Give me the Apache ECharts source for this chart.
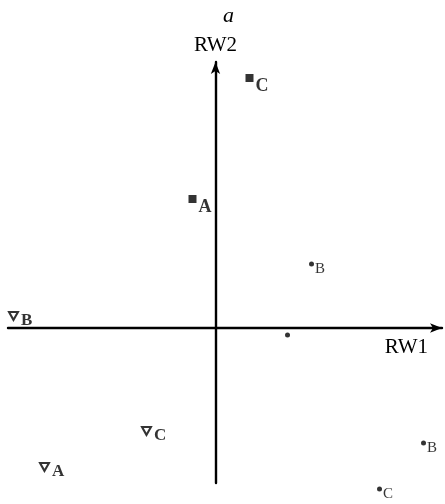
<!DOCTYPE html>
<html>
<head>
<meta charset="utf-8">
<script src="https://cdn.jsdelivr.net/npm/echarts@6/dist/echarts.min.js"></script>
<style>
  html, body { margin: 0; padding: 0; background: #fff; }
  #chart { width: 445px; height: 504px; }
</style>
</head>
<body>
<div id="chart"></div>
<script>
// Ordination scores on the first two axes (RW1, RW2)
const squareLabels = ['A', 'C'];
const squareX = [-0.23, 0.34];
const squareY = [1.29, 2.50];

const triangleLabels = ['A', 'B', 'C'];
const triangleX = [-1.71, -2.02, -0.69];
const triangleY = [-1.39, 0.12, -1.03];

const dotLabels = ['B', '', 'B', 'C'];
const dotX = [0.96, 0.72, 2.08, 1.64];
const dotY = [0.64, -0.07, -1.15, -1.61];

const axisNames = { x: 'RW1', y: 'RW2' };
const panelTag = 'a';

const serif = '"Liberation Serif", "DejaVu Serif", serif';

function pts(xs, ys, labels) {
  return xs.map((x, i) => ({ value: [x, ys[i]], name: labels[i] }));
}

const chart = echarts.init(document.getElementById('chart'));
chart.setOption({
  animation: false,
  backgroundColor: '#fff',
  grid: { left: 8, right: 3, top: 62, bottom: 21 },
  graphic: [{
    type: 'text',
    left: 223, top: 5,
    style: { text: panelTag, font: 'italic 22px ' + serif, fill: '#000' }
  }],
  xAxis: {
    type: 'value', min: -2.075, max: 2.265,
    name: axisNames.x, nameLocation: 'end', nameGap: -14,
    nameTextStyle: { fontFamily: serif, fontSize: 21, color: '#000', align: 'right', verticalAlign: 'top', padding: [9, 0, 0, 0] },
    axisLine: { onZero: true, lineStyle: { color: '#000', width: 2.4 }, symbol: ['none', 'arrow'], symbolSize: [7, 12] },
    axisTick: { show: false }, axisLabel: { show: false }, splitLine: { show: false }
  },
  yAxis: {
    type: 'value', min: -1.55, max: 2.66,
    name: axisNames.y, nameLocation: 'end', nameGap: 6,
    nameTextStyle: { fontFamily: serif, fontSize: 21, color: '#000', align: 'center' },
    axisLine: { onZero: true, lineStyle: { color: '#000', width: 2.4 }, symbol: ['none', 'arrow'], symbolSize: [7, 12] },
    axisTick: { show: false }, axisLabel: { show: false }, splitLine: { show: false }
  },
  series: [
    {
      type: 'scatter', clip: false,
      data: pts(squareX, squareY, squareLabels),
      symbol: 'rect', symbolSize: 8,
      itemStyle: { color: '#000' },
      label: { show: true, position: 'right', distance: 2, offset: [0, 8], formatter: '{b}',
               fontFamily: serif, fontWeight: 'bold', fontSize: 18, color: '#000' }
    },
    {
      type: 'scatter', clip: false,
      data: pts(triangleX, triangleY, triangleLabels),
      symbol: 'triangle', symbolRotate: 180, symbolSize: [9, 8],
      itemStyle: { color: '#fff', borderColor: '#000', borderWidth: 2 },
      label: { show: true, position: 'right', distance: 2, offset: [0, 5], formatter: '{b}',
               fontFamily: serif, fontWeight: 'bold', fontSize: 17, color: '#000' }
    },
    {
      type: 'scatter', clip: false,
      data: pts(dotX, dotY, dotLabels),
      symbol: 'circle', symbolSize: 5,
      itemStyle: { color: '#000' },
      label: { show: true, position: 'right', distance: 1, offset: [0, 5], formatter: '{b}',
               fontFamily: serif, fontSize: 15, color: '#000' }
    }
  ]
});
</script>
</body>
</html>
